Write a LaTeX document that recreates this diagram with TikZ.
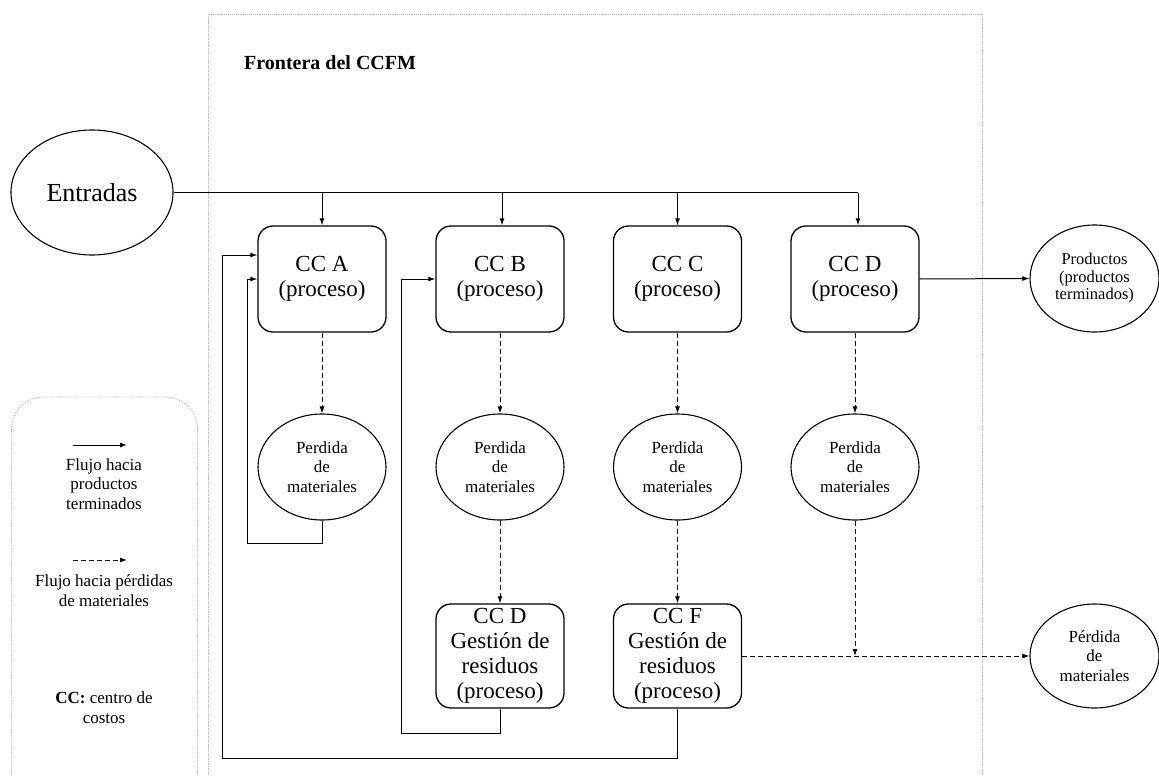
\documentclass[tikz,border=0pt]{standalone}
\usepackage{fontspec}
\setmainfont{Liberation Serif}
\usetikzlibrary{arrows.meta,shapes.geometric,calc}

\begin{document}
\begin{tikzpicture}[x=1pt,y=-1pt,
  proc/.style={draw, rounded corners=15pt, line width=1.3pt, minimum width=128pt,
    minimum height=106pt, align=center, inner sep=0pt, font=\fontsize{23}{25}\selectfont},
  waste/.style={proc, minimum height=104pt},
  lossell/.style={draw, ellipse, line width=1.1pt, minimum width=128pt, minimum height=106pt,
    align=center, inner sep=0pt, font=\fontsize{17}{19.7}\selectfont},
  flow/.style={line width=1pt, -{Latex[length=7pt,width=5pt]}},
  lossflow/.style={flow, dash pattern=on 5pt off 3pt},
  frontier/.style={gray!55, line width=0.9pt, densely dotted},
  legtext/.style={align=center, inner sep=0pt, font=\fontsize{17}{19.7}\selectfont}]
\useasboundingbox (0,0) rectangle (1159,776);
\clip (0,0) rectangle (1159,776);

% system boundary
\draw[frontier] (208,790) -- (208,14) -- (982,14) -- (982,790);
\node[anchor=west, inner sep=0pt, font=\bfseries\fontsize{20}{23}\selectfont] (title) at (244,63) {Frontera del CCFM};

% inputs and outputs
\node[draw, ellipse, line width=1.1pt, minimum width=162pt, minimum height=125pt, inner sep=0pt,
  font=\fontsize{26}{30}\selectfont] (ent) at (92,192.5) {Entradas};
\node[lossell, minimum width=129pt, minimum height=107pt, font=\fontsize{16.5}{17.5}\selectfont]
  (prod) at (1094.5,278.5) {Productos\\(productos\\terminados)};
\node[lossell, minimum width=129pt, minimum height=104pt] (final) at (1094.5,656) {Pérdida\\de\\materiales};

% cost centres
\node[proc] (ccA) at (322,279) {CC A\\(proceso)};
\node[proc] (ccB) at (500,279) {CC B\\(proceso)};
\node[proc] (ccC) at (677.5,279) {CC C\\(proceso)};
\node[proc] (ccD) at (855,279) {CC D\\(proceso)};

% material losses
\node[lossell] (lossA) at (322,467) {Perdida\\de\\materiales};
\node[lossell] (lossB) at (500,467) {Perdida\\de\\materiales};
\node[lossell] (lossC) at (677.5,467) {Perdida\\de\\materiales};
\node[lossell] (lossD) at (855,467) {Perdida\\de\\materiales};

% waste management
\node[waste] (wasteB) at (500,656) {CC D\\Gestión de\\residuos\\(proceso)};
\node[waste] (wasteF) at (677.5,656) {CC F\\Gestión de\\residuos\\(proceso)};

% input distribution
\draw[line width=1pt] (ent.east) -- ($(ent.east -| ccD.north)+(3,0)$);
\foreach \c/\dx in {ccA/0,ccB/2,ccC/0,ccD/3}
  \draw[flow] ($(ent.east -| \c.north)+(\dx,0)$) -- ($(\c.north)+(\dx,0)$);

% product flow
\draw[flow] (ccD.east) -- (prod.west);

% loss flows
\foreach \c/\l in {ccA/lossA,ccB/lossB,ccC/lossC,ccD/lossD}
  \draw[lossflow] (\c.south) -- (\l.north);
\draw[lossflow] (lossB.south) -- (wasteB.north);
\draw[lossflow] (lossC.south) -- (wasteF.north);
\draw[lossflow] (wasteF.east) -- (final.west);
\draw[lossflow] (lossD.south) -- (lossD.south |- wasteF.east);

% recirculation loops
\coordinate (loopA) at (247,543);
\coordinate (loopB) at (401,733);
\coordinate (loopF) at (222,758);
\draw[flow] (lossA.south) |- (loopA) |- (ccA.west);
\draw[flow] (wasteB.south) |- (loopB) |- (ccB.west);
\draw[flow] (wasteF.south) |- (loopF) |- ($(ccA.west)+(0,-24)$);

% legend
\draw[frontier, rounded corners=32pt] (11.5,397) rectangle (197.5,810);
\coordinate (lg1a) at (73,445);
\coordinate (lg1b) at (127,445);
\coordinate (lg2a) at (73,560);
\coordinate (lg2b) at (127,560);
\draw[flow] (lg1a) -- (lg1b);
\node[legtext] (lgt1) at (104,484) {Flujo hacia\\productos\\terminados};
\draw[lossflow] (lg2a) -- (lg2b);
\node[legtext] (lgt2) at (104,591) {Flujo hacia pérdidas\\de materiales};
\node[legtext] (lgt3) at (104,708) {\textbf{CC:} centro de\\costos};
\end{tikzpicture}
\end{document}
